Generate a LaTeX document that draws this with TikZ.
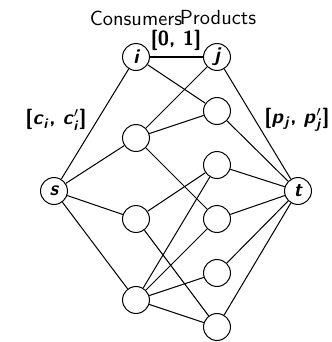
\documentclass[tikz,border=0pt]{standalone}
\usepackage{amsmath}
\newcommand{\bv}[1]{\textsf{\bfseries\itshape #1}}
\newcommand{\bu}[1]{\textsf{\bfseries #1}}
\begin{document}
\begin{tikzpicture}[x=0.49pt,y=-0.49pt,
  vert/.style={circle,draw,line width=0.5pt,minimum size=13.2pt,inner sep=0pt,font=\sffamily\bfseries\itshape},
  edge/.style={line width=0.5pt},
  lab/.style={inner sep=0pt,font=\sffamily}]
\useasboundingbox (0,0) rectangle (331,342);
\node[vert] (i) at (136,57) {i};
\node[vert] (c2) at (136,138) {};
\node[vert] (c3) at (136,219) {};
\node[vert] (c4) at (136,300) {};
\node[vert] (j) at (217,57) {j};
\node[vert] (p2) at (217,111) {};
\node[vert] (p3) at (217,165) {};
\node[vert] (p4) at (217,219) {};
\node[vert] (p5) at (217,273) {};
\node[vert] (p6) at (217,327) {};
\node[vert] (s) at (54,191) {s};
\node[vert] (t) at (298,191) {t};
\node[lab] (cons) at (136,18) {Consumers};
\node[lab] (prod) at (218,18) {Products};
\node[lab] (l01) at (176,40) {\bu{[0, 1]}};
\node[lab] (lc) at (56,120) {\bu{[}\bv{c}$_{\text{\bv{i}}}$\bu{,} \bv{c}$'_{\text{\bv{i}}}$\bu{]}};
\node[lab] (lp) at (297,120) {\bu{[}\bv{p}$_{\text{\bv{j}}}$\bu{,} \bv{p}$'_{\text{\bv{j}}}$\bu{]}};
\foreach \a/\b in {s/i,s/c2,s/c3,s/c4,t/j,t/p2,t/p3,t/p4,t/p5,t/p6,
  i/j,i/p2,j/c2,c2/p2,c2/p4,c3/p3,c3/p6,c4/p3,c4/p4,c4/p5,c4/p6}
  \draw[edge] (\a) -- (\b);
\end{tikzpicture}
\end{document}
